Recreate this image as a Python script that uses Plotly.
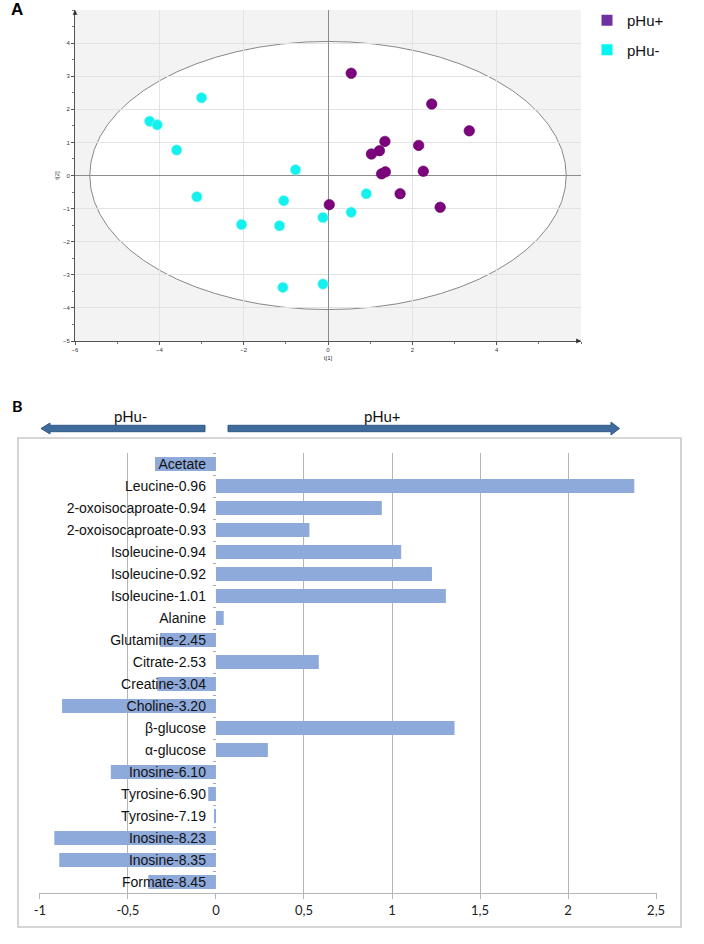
import plotly.graph_objects as go

W, H = 704, 944


def px(x):
    return x / W


def py(y):
    return 1 - y / H


# ---------------- Panel A data (score plot) ----------------
pos_t1 = [0.55, 2.46, 3.35, 1.35, 1.22, 1.03, 2.15, 1.27, 1.36, 2.26, 1.71, 2.66, 0.03]
pos_t2 = [3.09, 2.16, 1.35, 1.03, 0.75, 0.65, 0.91, 0.05, 0.11, 0.13, -0.55, -0.96, -0.88]
neg_t1 = [-3.00, -4.23, -4.05, -3.59, -0.77, -3.11, -1.05, -0.12, -2.05, -1.15, -1.07, -0.12, 0.55, 0.91]
neg_t2 = [2.35, 1.64, 1.53, 0.77, 0.17, -0.64, -0.76, -1.27, -1.48, -1.52, -3.38, -3.28, -1.11, -0.55]
ellipse_a, ellipse_b = 5.65, 4.05
a_xticks = [-6, -4, -2, 0, 2, 4]
a_yticks = [-5, -4, -3, -2, -1, 0, 1, 2, 3, 4]

# ---------------- Panel B data (loadings) ----------------
metabolites = [
    "Acetate", "Leucine-0.96", "2-oxoisocaproate-0.94", "2-oxoisocaproate-0.93",
    "Isoleucine-0.94", "Isoleucine-0.92", "Isoleucine-1.01", "Alanine",
    "Glutamine-2.45", "Citrate-2.53", "Creatine-3.04", "Choline-3.20",
    "β-glucose", "α-glucose", "Inosine-6.10", "Tyrosine-6.90", "Tyrosine-7.19",
    "Inosine-8.23", "Inosine-8.35", "Formate-8.45",
]
loadings = [
    -0.346, 2.376, 0.942, 0.531, 1.052, 1.227, 1.306, 0.044,
    -0.318, 0.584, -0.333, -0.874, 1.355, 0.295, -0.597, -0.044,
    -0.007, -0.918, -0.890, -0.384,
]
b_xticks = [-1, -0.5, 0, 0.5, 1, 1.5, 2, 2.5]
b_xticktext = ["-1", "-0,5", "0", "0,5", "1", "1,5", "2", "2,5"]

fig = go.Figure()

# Panel A traces
fig.add_trace(go.Scatter(
    x=pos_t1, y=pos_t2, mode="markers", showlegend=False,
    marker=dict(size=10.5, color="#7d027d", line=dict(color="#5e005e", width=0.6)),
    xaxis="x", yaxis="y"))
fig.add_trace(go.Scatter(
    x=neg_t1, y=neg_t2, mode="markers", showlegend=False,
    marker=dict(size=10.5, color="#14f0ee", line=dict(color="#8ff7f5", width=0.6)),
    xaxis="x", yaxis="y"))
# legend entries (squares)
fig.add_trace(go.Scatter(
    x=[None], y=[None], mode="markers", name="pHu+", legendgroup="p",
    marker=dict(symbol="square", size=11, color="#7030a0"), xaxis="x", yaxis="y"))
fig.add_trace(go.Scatter(
    x=[None], y=[None], mode="markers", name="pHu-", legendgroup="n",
    marker=dict(symbol="square", size=11, color="#00f5f0"), xaxis="x", yaxis="y"))

# Panel B bars
fig.add_trace(go.Bar(
    x=loadings, y=metabolites, orientation="h", showlegend=False,
    marker=dict(color="#8eaadb", line=dict(width=0)), width=0.64,
    xaxis="x2", yaxis="y2"))

b_dom = [px(39), px(657)]
b_range = [-1.005, 2.505]
zero_pos = b_dom[0] + (b_dom[1] - b_dom[0]) * (0 - b_range[0]) / (b_range[1] - b_range[0])

shapes = [
    # gray plot area background of A
    dict(type="rect", xref="x", yref="y", x0=-6, x1=6, y0=-5, y1=5,
         fillcolor="#f3f3f3", line=dict(width=0), layer="below"),
    # Hotelling ellipse
    dict(type="circle", xref="x", yref="y", x0=-ellipse_a, x1=ellipse_a,
         y0=-ellipse_b, y1=ellipse_b, fillcolor="white",
         line=dict(color="#888888", width=1), layer="below"),
    # frame of panel B
    dict(type="rect", xref="paper", yref="paper", x0=px(18), x1=px(681),
         y0=py(927), y1=py(438), line=dict(color="#c9c9c9", width=1.6)),
]


def arrow_path(x_tail, x_base, x_tip, yc, bh, hh):
    return (f"M {px(x_tail)},{py(yc - bh)} L {px(x_base)},{py(yc - bh)} "
            f"L {px(x_base)},{py(yc - hh)} L {px(x_tip)},{py(yc)} "
            f"L {px(x_base)},{py(yc + hh)} L {px(x_base)},{py(yc + bh)} "
            f"L {px(x_tail)},{py(yc + bh)} Z")


shapes.append(dict(type="path", xref="paper", yref="paper",
                   path=arrow_path(205, 50, 41, 428.5, 3.2, 5.5),
                   fillcolor="#3f6b9c", line=dict(color="#2f5a88", width=1)))
shapes.append(dict(type="path", xref="paper", yref="paper",
                   path=arrow_path(228, 611, 619.5, 428.5, 3.2, 6.5),
                   fillcolor="#3f6b9c", line=dict(color="#2f5a88", width=1)))


def label(text, x, y, font):
    return dict(text=text, x=px(x), y=py(y), xref="paper", yref="paper",
                xanchor="center", yanchor="middle", showarrow=False, font=font)


annotations = [
    label("<b>A</b>", 17, 10, dict(family="Liberation Sans, Arial", size=17, color="black")),
    label("<b>B</b>", 17, 405, dict(family="Lato, Arial", size=16, color="black")),
    label("pHu-", 130, 416, dict(family="Lato, Arial", size=15, color="#111")),
    label("pHu+", 382, 415.5, dict(family="Lato, Arial", size=15, color="#111")),
    # axis arrow heads of panel A
    dict(text="", x=6, y=-5, xref="x", yref="y", ax=-6, ay=0, showarrow=True,
         arrowhead=2, arrowsize=0.8, arrowwidth=1.2, arrowcolor="#333"),
    dict(text="", x=-6, y=5, xref="x", yref="y", ax=0, ay=6, showarrow=True,
         arrowhead=2, arrowsize=0.8, arrowwidth=1.2, arrowcolor="#333"),
]

small = dict(family="Liberation Sans, Arial", size=6, color="#333")

fig.update_layout(
    width=W, height=H, autosize=False,
    margin=dict(l=0, r=0, t=0, b=0, autoexpand=False),
    paper_bgcolor="white", plot_bgcolor="rgba(0,0,0,0)",
    showlegend=True,
    legend=dict(x=px(587), y=py(4), xanchor="left", yanchor="top",
                font=dict(family="Liberation Sans, Arial", size=15, color="#111"),
                tracegroupgap=7, bgcolor="rgba(0,0,0,0)", itemclick=False),
    xaxis=dict(
        domain=[px(75), px(581)], range=[-6, 6], anchor="y", automargin=False,
        tickmode="array", tickvals=a_xticks, tickfont=small,
        showgrid=True, gridcolor="#e3e3e3", gridwidth=1,
        zeroline=True, zerolinecolor="#8c8c8c", zerolinewidth=1,
        showline=True, linecolor="#555", linewidth=1,
        ticks="outside", ticklen=3, tickcolor="#555",
        minor=dict(dtick=1, tick0=0, ticks="outside", ticklen=2, tickcolor="#777", showgrid=False),
        title=dict(text="t[1]", font=small, standoff=3),
        fixedrange=True,
    ),
    yaxis=dict(
        domain=[py(341), py(10)], range=[-5, 5], anchor="x", automargin=False,
        tickmode="array", tickvals=a_yticks, tickfont=small,
        showgrid=True, gridcolor="#e3e3e3", gridwidth=1,
        zeroline=True, zerolinecolor="#8c8c8c", zerolinewidth=1,
        showline=True, linecolor="#555", linewidth=1,
        ticks="outside", ticklen=3, tickcolor="#555",
        minor=dict(dtick=0.5, tick0=0, ticks="outside", ticklen=2, tickcolor="#777", showgrid=False),
        title=dict(text="t[2]", font=small, standoff=2),
        fixedrange=True,
    ),
    xaxis2=dict(
        domain=b_dom, range=b_range, anchor="y2", automargin=False,
        tickmode="array", tickvals=b_xticks, ticktext=b_xticktext,
        tickfont=dict(family="Lato, Carlito, Arial", size=13, color="#222"),
        showgrid=True, gridcolor="#b5b5b5", gridwidth=1.3,
        zeroline=True, zerolinecolor="white", zerolinewidth=3,
        showline=True, linecolor="#b5b5b5", linewidth=1.3,
        ticks="outside", ticklen=5, tickcolor="#b5b5b5", tickwidth=1.3,
        fixedrange=True,
    ),
    yaxis2=dict(
        domain=[py(893), py(453)], type="category", automargin=False,
        categoryorder="array", categoryarray=metabolites,
        range=[19.5, -0.5], anchor="free", position=zero_pos, side="left",
        showgrid=False, zeroline=False, showline=False,
        ticks="outside", ticklen=3, tickson="boundaries", tickcolor="#aaa",
        tickfont=dict(family="Liberation Sans, Arial", size=14, color="#111"),
        ticklabelstandoff=10,
        fixedrange=True,
    ),
    shapes=shapes,
    annotations=annotations,
)

fig.write_html(
    "out.html",
    config={"displayModeBar": False},
    post_script="document.body.style.margin='0px';document.body.style.overflow='hidden';",
)
